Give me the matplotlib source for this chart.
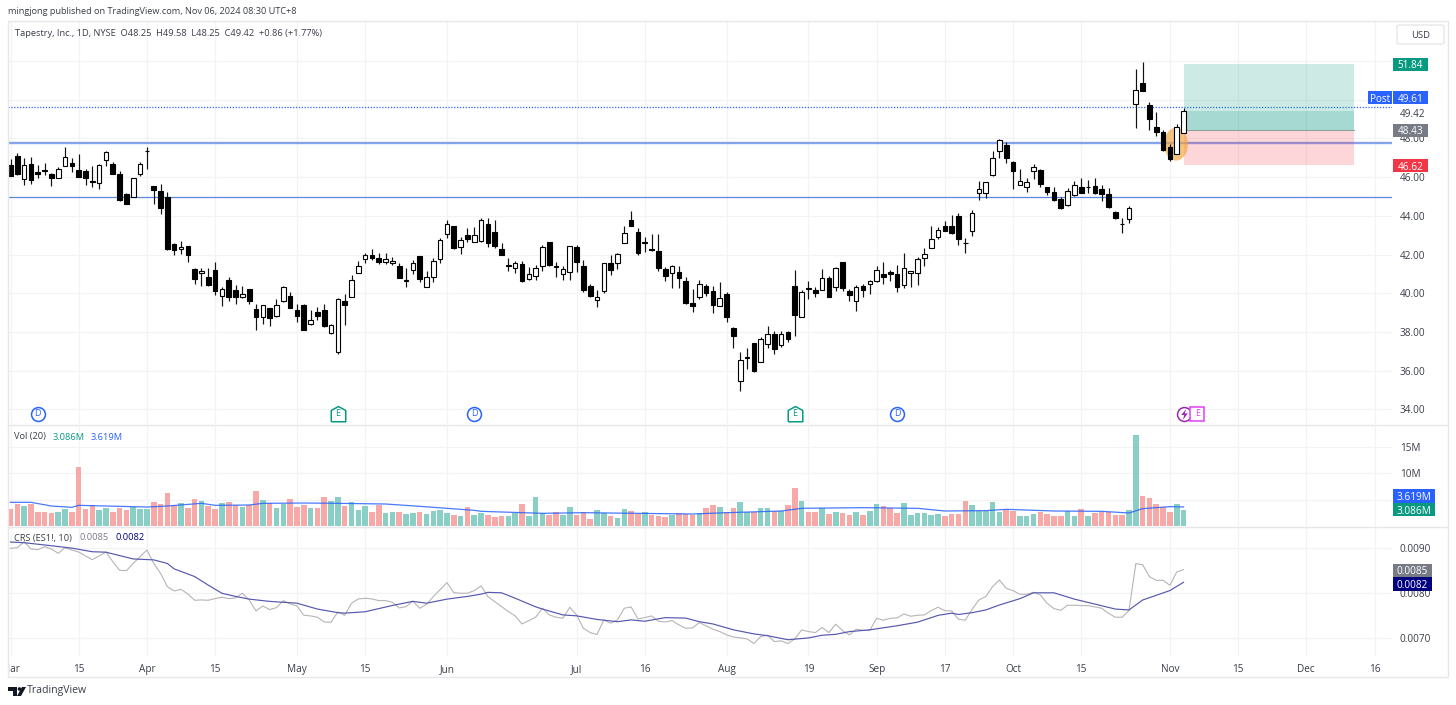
import numpy as np
import matplotlib
matplotlib.use("Agg")
from matplotlib import pyplot as plt
from matplotlib.patches import Rectangle, Ellipse, Polygon, Circle, FancyBboxPatch
from matplotlib.lines import Line2D

plt.rcParams['font.family'] = ['Open Sans', 'DejaVu Sans']

opens = [46.61,47.10,45.89,46.70,46.24,46.36,46.15,45.94,46.58,46.75,
46.36,46.32,45.79,45.67,46.89,46.67,46.15,45.15,44.95,46.17,
47.32,45.53,45.27,44.95,42.52,42.29,42.43,41.24,41.07,40.84,
41.21,39.85,40.69,40.16,39.79,40.21,39.21,38.76,39.23,38.83,
39.62,39.86,39.14,39.40,38.40,39.02,39.14,37.95,36.99,39.59,
39.81,41.07,41.77,41.96,41.82,41.63,41.58,41.39,40.62,41.22,
41.91,40.34,40.83,41.76,43.05,43.46,42.39,43.01,42.63,42.72,
43.58,43.18,42.29,41.39,41.32,41.50,40.76,40.88,41.41,42.65,
41.41,41.00,41.10,42.41,41.39,40.38,39.64,40.12,41.55,41.58,
42.60,43.80,43.18,42.58,42.27,42.20,41.26,41.03,41.08,40.65,
39.50,39.83,40.36,40.10,39.36,39.95,38.23,35.47,36.64,37.45,
36.44,37.40,37.88,37.31,38.00,40.39,38.79,40.26,40.15,40.19,
40.79,40.34,41.61,40.10,39.60,40.38,40.46,40.62,40.98,41.08,
41.00,40.45,41.03,41.03,41.82,42.32,42.92,43.46,43.46,43.99,
42.61,43.20,45.18,45.18,46.09,47.36,47.64,46.80,45.61,45.47,
46.30,46.35,45.47,45.23,44.85,44.54,45.06,45.50,45.47,45.54,
45.37,45.14,44.18,43.59,43.83,49.75,50.84,49.70,48.58,48.31,
47.53,47.21,48.25]
highs = [46.92,47.22,46.96,47.06,46.61,46.73,46.22,46.53,47.53,46.96,
47.18,46.41,46.58,46.65,47.35,46.79,46.30,45.20,45.93,46.80,
47.53,45.53,45.62,45.24,42.57,42.72,42.43,41.28,41.29,41.29,
41.62,40.34,40.86,40.43,40.40,40.21,39.45,39.40,39.23,39.71,
40.38,40.07,39.45,39.45,39.14,39.31,39.45,38.40,39.78,39.97,
40.93,41.65,42.07,42.29,42.06,42.06,41.89,41.55,41.29,41.72,
41.94,41.15,41.82,42.84,43.79,43.48,42.93,43.36,43.41,43.87,
43.91,43.79,42.58,41.81,41.69,41.67,41.34,41.46,42.50,42.67,
41.60,41.41,42.46,42.49,41.72,40.46,40.15,41.58,41.98,42.06,
43.48,44.25,43.36,42.93,43.06,43.05,41.38,41.46,41.41,40.86,
40.21,40.67,40.46,40.36,40.57,40.07,38.24,36.95,37.16,37.45,
37.73,38.29,38.05,38.05,38.05,41.19,40.17,40.63,40.31,41.25,
40.91,41.37,41.63,40.20,40.43,40.48,40.69,41.43,41.60,41.20,
41.46,42.06,41.17,41.89,42.32,43.47,43.44,43.73,44.04,44.13,
42.87,44.30,45.81,45.76,47.36,47.95,47.83,46.83,46.40,45.97,
46.67,46.42,45.50,45.50,44.99,45.42,45.80,45.97,45.85,45.97,
45.59,45.42,44.25,43.87,44.49,51.58,51.96,49.86,49.37,48.41,
47.69,48.72,49.58]
lows = [46.06,46.13,45.58,45.62,45.96,46.13,45.55,45.93,46.57,46.27,
46.00,45.58,45.50,45.37,46.56,46.15,44.77,44.60,44.95,46.03,
46.44,44.62,44.10,42.23,41.97,42.05,41.59,40.48,40.38,40.38,
39.91,39.35,39.60,39.45,39.76,39.45,38.11,38.42,38.31,38.80,
39.55,39.23,38.54,38.12,38.37,38.62,38.28,37.92,36.87,38.37,
39.79,41.07,41.55,41.72,41.50,41.53,41.46,40.77,40.33,41.00,
40.57,40.31,40.58,41.58,42.87,42.31,42.01,42.63,42.63,42.67,
42.41,42.32,41.98,41.14,41.07,40.57,40.71,40.67,41.17,41.43,
40.86,40.67,40.71,41.12,40.09,39.81,39.28,40.03,40.95,41.24,
42.58,43.49,41.98,42.15,42.20,41.17,40.65,40.29,40.26,39.45,
39.05,39.71,39.84,38.98,39.36,38.54,37.19,34.97,36.09,35.95,
36.44,37.16,36.85,37.21,37.50,37.80,38.76,39.69,39.83,40.17,
39.79,40.10,40.10,39.60,39.10,39.79,39.96,40.60,40.48,40.65,
40.08,40.27,40.34,40.41,41.41,42.32,42.79,43.22,43.06,42.49,
42.10,42.96,44.82,44.92,46.07,46.97,46.71,45.37,45.59,45.25,
45.88,45.47,45.06,44.78,44.37,44.52,45.04,45.16,45.19,45.14,
44.78,44.42,43.82,43.10,43.61,48.55,50.44,48.43,48.14,47.36,
46.83,47.19,48.25]
closes = [46.06,46.17,46.61,45.86,46.17,46.30,45.96,46.44,47.01,46.56,
46.01,45.93,45.74,46.60,47.27,46.17,44.79,44.63,45.93,46.70,
47.37,45.34,44.39,42.28,42.23,42.41,41.98,40.74,41.15,40.43,
40.14,40.21,39.79,39.81,39.95,39.62,38.78,39.38,38.73,39.38,
40.31,39.23,38.81,38.12,38.61,38.81,38.31,38.35,39.71,39.40,
40.67,41.43,41.96,41.81,41.60,41.75,41.69,40.81,40.67,41.58,
40.72,40.84,41.67,42.77,43.56,42.36,42.77,42.79,43.01,43.80,
42.62,42.46,41.98,41.46,41.58,40.62,40.98,41.29,42.37,41.46,
41.34,41.24,42.44,41.63,40.19,39.84,39.79,41.55,41.20,42.01,
43.10,43.49,42.08,42.63,42.22,41.32,40.88,41.43,40.81,39.48,
39.33,40.46,40.03,39.41,39.74,38.79,37.81,36.54,36.73,35.97,
37.62,37.88,37.14,37.88,37.64,38.86,40.05,40.20,40.00,40.81,
39.81,41.29,40.29,39.89,40.34,40.19,40.63,41.20,40.82,40.98,
40.34,41.29,41.17,41.75,42.01,42.79,43.25,43.22,43.11,42.80,
42.58,44.13,45.38,45.73,46.98,47.91,46.98,46.30,45.80,45.76,
46.50,45.64,45.25,44.80,44.39,45.26,45.59,45.16,45.50,45.16,
45.14,44.46,43.90,43.56,44.42,50.48,50.46,49.01,48.34,47.41,
46.91,48.57,49.42]
volumes = [3.17,4.12,3.80,4.12,2.72,2.60,2.47,2.72,3.23,2.66,
11.15,3.30,3.99,3.04,3.36,2.66,3.36,3.04,3.68,3.23,
3.23,4.56,4.12,6.21,3.93,4.31,3.49,5.13,4.75,3.80,
3.17,4.31,4.56,3.93,3.68,3.99,6.65,5.00,4.31,3.49,
4.25,5.13,3.61,3.99,3.49,3.49,5.45,4.69,5.45,3.80,
4.63,3.04,3.74,2.72,3.93,2.41,2.60,2.60,2.22,2.41,
2.72,2.22,2.85,3.11,2.47,2.09,1.90,3.55,2.09,2.47,
2.09,1.65,1.84,1.84,2.41,4.18,1.96,5.45,2.47,2.09,
2.60,2.15,3.61,2.09,2.60,1.33,2.98,2.53,1.96,1.52,
3.17,2.85,2.28,2.66,2.15,1.84,1.71,2.15,2.41,2.34,
2.15,2.53,3.36,3.93,3.61,2.60,3.42,4.56,2.66,2.72,
3.36,3.42,2.85,2.79,3.93,7.22,4.82,2.60,2.66,3.49,
2.28,2.60,2.41,2.09,2.66,2.09,2.85,4.12,3.74,3.36,
2.41,4.31,2.09,2.53,2.41,2.09,2.22,1.84,2.22,2.28,
4.82,3.93,2.79,2.92,4.56,2.66,3.11,2.79,1.84,1.84,
2.28,2.72,2.28,1.96,1.96,2.79,1.96,3.17,1.84,2.41,
2.66,2.60,2.15,2.09,2.98,17.3,5.64,5.26,4.18,3.55,
2.72,4.18,3.086]
# vol moving average, read at the bends only
vol_ma_idx = [0,3,6,9,10,20,23,28,30,35,37,43,48,55,60,68,69,78,84,100,105,113,116,125,133,137,143,146,153,160,164,166,170,172]
vol_ma = [4.50,4.50,3.80,3.55,3.93,3.61,3.80,4.31,3.93,3.99,4.31,4.37,4.31,4.18,3.74,2.98,2.79,2.41,2.53,2.28,2.53,2.85,3.36,3.49,3.36,2.85,2.92,3.17,2.85,2.79,2.47,3.30,3.68,3.619]
# CRS in thousandths
crs = [8.985,9.0,9.133,8.97,8.956,9.022,8.97,8.875,9.0,8.948,
8.904,8.816,8.734,8.816,8.904,8.69,8.499,8.491,8.653,8.80,
8.948,8.653,8.432,8.137,8.041,8.078,7.975,7.835,7.842,7.835,
7.872,7.901,7.872,7.886,7.99,7.842,7.599,7.709,7.628,7.672,
7.827,7.754,7.709,7.503,7.488,7.459,7.355,7.348,7.577,7.503,
7.768,7.864,7.879,7.864,7.827,7.827,7.791,7.665,7.695,7.813,
7.658,7.746,7.916,8.071,8.226,8.004,7.99,7.99,8.049,8.152,
7.916,7.805,7.695,7.584,7.488,7.311,7.385,7.459,7.658,7.51,
7.459,7.436,7.68,7.51,7.215,7.119,7.075,7.40,7.326,7.40,
7.658,7.687,7.422,7.451,7.488,7.37,7.355,7.385,7.289,7.215,
7.222,7.341,7.267,7.193,7.142,7.068,7.023,7.001,6.979,6.876,
7.031,7.06,6.92,6.935,6.876,6.979,7.178,7.142,7.119,7.23,
7.119,7.304,7.164,7.068,7.193,7.171,7.164,7.436,7.392,7.436,
7.444,7.532,7.481,7.503,7.51,7.606,7.68,7.606,7.599,7.414,
7.392,7.636,7.842,7.916,8.137,8.285,8.10,8.049,7.968,7.968,
8.012,7.953,7.768,7.65,7.613,7.724,7.724,7.717,7.717,7.687,
7.658,7.547,7.459,7.459,7.606,8.646,8.624,8.358,8.277,8.277,
8.167,8.462,8.513]
crs_ma_idx = [0,2,5,9,12,14,18,21,23,24,27,29,31,33,35,38,41,42,45,48,49,52,56,59,61,64,67,69,70,72,74,77,78,81,83,86,89,91,93,96,99,101,103,106,109,111,114,117,119,121,123,126,130,133,136,138,139,141,143,145,148,150,153,156,159,162,164,166,170,172]
crs_ma = [9.125,9.11,9.06,8.99,8.91,8.90,8.75,8.73,8.65,8.53,8.36,8.17,7.99,7.92,7.86,7.81,7.78,7.77,7.64,7.56,7.55,7.58,7.72,7.81,7.77,7.86,7.92,7.97,8.01,8.00,7.88,7.69,7.64,7.51,7.49,7.41,7.36,7.40,7.37,7.45,7.44,7.36,7.31,7.18,7.09,7.05,6.96,7.00,7.06,7.08,7.14,7.18,7.27,7.35,7.50,7.55,7.52,7.56,7.62,7.73,7.87,8.00,8.00,7.86,7.75,7.64,7.62,7.84,8.05,8.233]

tick_idx = [0,10,20,30,42,52,64,83,93,105,117,127,137,147,157,170,180,190,200]
tick_labels = ["Mar","15","Apr","15","May","15","Jun","Jul","16","Aug","19","Sep","17","Oct","15","Nov","15","Dec","16"]
level_upper = 47.75
level_lower = 44.95
post_price = 49.61
last_price = 49.42
target = 51.84
entry = 48.43
stop = 46.62
position_start = 172
position_end = 197
dividend_idx = [4, 68, 130]
earnings_idx = [48, 115]

W, H = 1456, 705
LEFT, RIGHT = 8, 1392
TEXT = "#3a3e48"
GRID = "#f2f3f5"
BORDER = "#e6e7ea"
RED = "#f7a9a7"
TEAL = "#8acfc5"

fig = plt.figure(figsize=(W/100, H/100), dpi=100, facecolor="white")

def fx(px):
    return px / W

def fy(py):
    return 1 - py / H

def make_axes(top, bottom):
    ax = fig.add_axes([fx(LEFT), fy(bottom), (RIGHT-LEFT)/W, (bottom-top)/H])
    ax.patch.set_alpha(0)
    for s in ax.spines.values():
        s.set_visible(False)
    ax.set_xlim((LEFT-10.5)/6.82, (RIGHT-10.5)/6.82)
    ax.set_xticks(tick_idx)
    ax.yaxis.tick_right()
    ax.tick_params(length=0, labelsize=7.2, labelcolor=TEXT, pad=5.5)
    ax.grid(True, color=GRID, lw=0.9)
    ax.set_axisbelow(True)
    return ax

def fig_text(px, py, s, color=TEXT, size=7.2, ha="left", **kw):
    fig.text(fx(px), fy(py), s, color=color, fontsize=size, ha=ha, va="center", zorder=12, **kw)

def tag(py, s, color, x0=1393, x1=1428):
    # coloured value label on the price scale, py is its centre in picture pixels
    y = fy(py)
    fig.add_artist(Rectangle((fx(x0), y-6.8/H), (x1-x0)/W, 13.6/H, transform=fig.transFigure,
                             facecolor=color, edgecolor="none", zorder=10))
    fig.text(fx((x0+x1)/2), y, s, color="white", fontsize=7.2, ha="center", va="center_baseline", zorder=12)

x = np.arange(len(closes))
o, h, l, c = map(np.array, (opens, highs, lows, closes))
up = c >= o

# price pane
ax = make_axes(21, 424)
ax.set_ylim(34-14.5/19.37, 34+388.5/19.37)
ax.set_yticks(np.arange(34, 53, 2))
# 50.00 and 52.00 sit under the value tags in the reference
ax.set_yticklabels(["%.2f" % v if v < 49 else "" for v in np.arange(34, 53, 2)])
ax.tick_params(axis="x", labelbottom=False)
ax.text(1+7.5/(RIGHT-LEFT), last_price-0.2, "%.2f" % last_price, transform=ax.get_yaxis_transform(), color=TEXT,
        fontsize=7.2, va="center", ha="left", clip_on=False)

ax.axhline(level_upper, color="#86a2ea", lw=1.7, zorder=2)
ax.axhline(level_lower, color="#5e88e0", lw=0.9, zorder=2)
ax.axhline(post_price, color="#2962ff", lw=0.9, ls=(0, (1, 1.3)), zorder=2)

width = position_end - position_start
ax.add_patch(Rectangle((position_start, entry), width, target-entry, facecolor="#089981", alpha=0.2, lw=0, zorder=3))
ax.add_patch(Rectangle((position_start, entry), width, last_price-entry, facecolor="#089981", alpha=0.2, lw=0, zorder=3))
ax.add_patch(Rectangle((position_start, stop), width, entry-stop, facecolor="#f23645", alpha=0.2, lw=0, zorder=3))
ax.plot([position_start, position_end], [entry, entry], color="#8a9a9a", lw=0.7, zorder=3)
ax.add_patch(Ellipse((170.9, 47.7), 3.5, 1.7, facecolor="#f2a33a", alpha=0.65, edgecolor="none", zorder=4))

ax.vlines(x, l, h, color="#111111", lw=0.85, zorder=5)
ax.bar(x, np.maximum(np.abs(c-o), 0.03), bottom=np.minimum(o, c), width=0.68,
       color=["white" if u else "black" for u in up], edgecolor="black", linewidth=0.8, zorder=6)

# event markers along the bottom of the pane
event_y = 34-4.5/19.37
house = [(-1,-1),(1,-1),(1,0.55),(0,1.1),(-1,0.55),(-1,-1)]
bolt = [(0.3,1),(-0.6,-0.1),(-0.05,-0.1),(-0.3,-1),(0.6,0.2),(0.05,0.2),(0.3,1)]
ax.plot(dividend_idx, [event_y]*3, "o", ms=10, mfc="white", mec="#2962ff", mew=1.1, zorder=7)
ax.plot(earnings_idx, [event_y]*2, ls="none", marker=house, ms=11.5, mfc="white", mec="#089981", mew=1.1, zorder=7)
for i in dividend_idx:
    ax.text(i, event_y, "D", color="#2962ff", fontsize=6.5, ha="center", va="center", zorder=8)
for i in earnings_idx:
    ax.text(i, event_y, "E", color="#089981", fontsize=6.5, ha="center", va="center", zorder=8)
ax.plot([172], [event_y], "o", ms=10, mfc="white", mec="#9c27b0", mew=1.1, zorder=7)
ax.plot([172], [event_y], ls="none", marker=bolt, ms=8, mfc="#9c27b0", mec="none", zorder=8)
ax.plot([174], [event_y], "s", ms=10, mfc="white", mec="#e040fb", mew=1.1, zorder=7)
ax.text(174, event_y, "E", color="#e040fb", fontsize=6.5, ha="center", va="center", zorder=8)

# volume pane
ax_vol = make_axes(425, 526)
ax_vol.set_ylim(0, 101/5.26)
ax_vol.set_yticks([5, 10, 15])
ax_vol.set_yticklabels(["", "10M", "15M"])
ax_vol.tick_params(axis="x", labelbottom=False)
ax_vol.bar(x, volumes, width=0.82, color=[TEAL if u else RED for u in up], zorder=3)
ax_vol.plot(vol_ma_idx, vol_ma, color="#2962ff", lw=0.9, alpha=0.85, zorder=4)

# CRS pane
ax_crs = make_axes(527, 656)
ax_crs.set_ylim(6.6, 9.458)
ax_crs.set_yticks([7, 8, 9])
ax_crs.set_yticklabels(["0.0070", "0.0080", "0.0090"])
ax_crs.set_xticklabels(tick_labels)
ax_crs.tick_params(axis="x", pad=5.5, labelsize=7.2)
ax_crs.plot(x, crs, color="#b5b5b5", lw=0.8, zorder=3)
ax_crs.plot(crs_ma_idx, crs_ma, color="#5558ae", lw=0.85, zorder=4)

# chart frame and pane separators
fig.add_artist(Rectangle((fx(0), fy(677)), fx(8), 22/H, transform=fig.transFigure, facecolor="white", edgecolor="none", zorder=9))
fig.add_artist(Rectangle((fx(LEFT), fy(677)), (1448-LEFT)/W, (677-21)/H, transform=fig.transFigure,
                         fill=False, edgecolor=BORDER, lw=1.0, zorder=9))
for py in (424.5, 526.5):
    fig.add_artist(Line2D([fx(LEFT), fx(1448)], [fy(py), fy(py)], color=BORDER, lw=1.0, zorder=9))
fig.add_artist(FancyBboxPatch((fx(1397), fy(44)), 47/W, 19/H, boxstyle="round,pad=0,rounding_size=0.002",
                              transform=fig.transFigure, facecolor="white", edgecolor=BORDER, lw=1.0, zorder=9))
fig_text(1411, 35, "USD", size=6.8)

# value tags, shifted like the reference where they would collide
tag(64.5, "51.84", "#089981")
tag(97.5, "49.61", "#2962ff")
tag(97.5, "Post", "#2962ff", 1368, 1392)
tag(130.5, "48.43", "#787b86")
tag(165.5, "46.62", "#f23645")
tag(496, "3.619M", "#2962ff", 1393, 1435)
tag(509.5, "3.086M", "#089981", 1393, 1435)
tag(570.5, "0.0085", "#787b86", 1393, 1432)
tag(584, "0.0082", "#000080", 1393, 1432)

# header and legends
fig_text(8, 11, "mingjong published on TradingView.com, Nov 06, 2024 08:30 UTC+8", size=6.6)
fig_text(15, 33, "Tapestry, Inc., 1D, NYSE  O48.25  H49.58  L48.25  C49.42  +0.86 (+1.77%)", size=6.7)
fig_text(14, 437, "Vol (20)", size=6.7)
fig_text(53, 437, "3.086M", color="#089981", size=6.7)
fig_text(91, 437, "3.619M", color="#2962ff", size=6.7)
fig_text(14, 538, "CRS (ES1!, 10)", size=6.7)
fig_text(80, 538, "0.0085", color="#787b86", size=6.7)
fig_text(115, 538, "0.0082", color="#000080", size=6.7)

# logo
for patch in (Polygon([(8,687),(17,687),(17,696),(13,696),(13,691),(8,691)]),
              Polygon([(22,687),(26,687),(21,696),(17,696)]),
              Circle((19.5,689), 1.8)):
    patch.set_facecolor("#131722")
    patch.set_edgecolor("none")
    patch.set_transform(matplotlib.transforms.Affine2D().scale(1/W, -1/H).translate(0, 1) + fig.transFigure)
    patch.set_zorder(9)
    fig.add_artist(patch)
fig_text(27, 691, "TradingView", size=7.6)

fig.savefig("out.png", dpi=100)
